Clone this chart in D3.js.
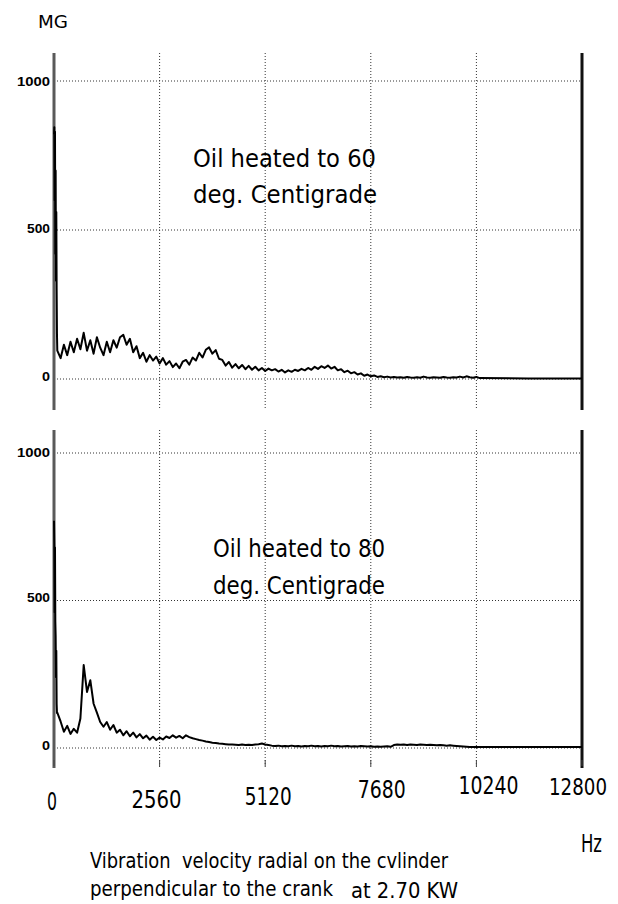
<!DOCTYPE html>
<html><head><meta charset="utf-8">
<script src="https://cdn.jsdelivr.net/npm/d3@7"></script>
<style>body{margin:0;background:#fff}svg{display:block}</style>
</head><body><svg id="c" width="618" height="904"></svg>
<script>
// ---------- DATA ----------
const xTickValues = [0, 2560, 5120, 7680, 10240, 12800];
const xTickLabels = ["0", "2560", "5120", "7680", "10240", "12800"];
const yTickValues = [0, 500, 1000];
const yTickLabels = ["0", "500", "1000"];
const lowStepHz = 8;    // spacing of the low-frequency spike samples
const mainStepHz = 80;  // spacing of the spectrum samples (starting at 80 Hz)

// Oil at 60 °C
const topLow = [820, 845, 600, 830, 420, 700, 330, 560, 300, 150];
const topMain = [95,70,115,80,125,90,135,100,155,95,130,85,140,105,80,125,90,130,105,140,148,115,135,90,110,70,88,58,80,62,75,52,70,48,60,40,52,36,58,64,48,72,62,88,72,98,106,85,97,68,64,45,57,38,50,36,47,33,44,31,41,29,37,27,35,29,33,25,31,22,29,24,31,27,34,29,37,31,41,34,43,37,45,35,41,29,33,23,28,19,23,15,19,11,15,9,12,7,9,6,8,5,7,5,6,4,7,5,4,6,4,8,5,4,6,5,4,7,5,4,6,5,8,5,9,6,4,7];
const topTail = [[10320, 3], [11500, 2], [12800, 2]];

// Oil at 80 °C
const botLow = [770, 690, 460, 680, 430, 380, 240, 330, 150, 119];
const botMain = [120,90,55,75,48,65,52,100,281,190,230,150,120,88,72,88,62,78,52,62,43,57,40,52,36,47,33,42,28,38,27,35,29,39,34,43,35,41,33,43,37,33,30,27,25,22,20,18,17,15,14,13,12,12,11,10,12,10,11,10,12,13,15,12,10,8,7,8,6,7,6,8,6,7,5,7,6,8,6,7,5,7,6,8,6,7,5,6,7,5,6,5,7,6,5,6,4,5,4,5,6,4,10,12,11,12,10,12,11,10,12,11,10,11,10,9,10,9,8,9,8,7,6,5,4,3,3,3];
const botTail = [[10320, 3], [11500, 3], [12800, 3]];

// ---------- LAYOUT ----------
const svg = d3.select("#c");
const narrow = "'Liberation Sans Narrow','DejaVu Sans Condensed','Arial Narrow',sans-serif";
const x = d3.scaleLinear().domain([0, 12800]).range([54, 582]);

const panels = [
  {low: topLow, main: topMain, tail: topTail, y: d3.scaleLinear().domain([0, 1000]).range([379, 81]),
   top: 53, bottom: 410, labelY: [381, 233, 86],
   note: [{t: "Oil heated to 60", x: 193, y: 167, w: 183}, {t: "deg. Centigrade", x: 193, y: 203, w: 184}]},
  {low: botLow, main: botMain, tail: botTail, y: d3.scaleLinear().domain([0, 1000]).range([748, 453]),
   top: 430, bottom: 768, labelY: [750, 602, 457],
   note: [{t: "Oil heated to 80", x: 213, y: 557, w: 172}, {t: "deg. Centigrade", x: 213, y: 594, w: 172}]}
];
const yLabelWidth = [8, 23, 33];

panels.forEach(p => {
  const g = svg.append("g");
  g.selectAll("line.h").data(yTickValues).join("line")
    .attr("x1", x(0)).attr("x2", x(12800))
    .attr("y1", d => p.y(d)).attr("y2", d => p.y(d))
    .attr("stroke", "#333").attr("stroke-width", 1).attr("stroke-dasharray", "1,2");
  g.selectAll("line.v").data(xTickValues.slice(1, -1)).join("line")
    .attr("x1", d => x(d)).attr("x2", d => x(d))
    .attr("y1", p.top).attr("y2", p.bottom)
    .attr("stroke", "#333").attr("stroke-width", 1).attr("stroke-dasharray", "1,2");
  g.selectAll("text.yl").data(yTickValues).join("text")
    .attr("x", 50).attr("y", (d, i) => p.labelY[i])
    .attr("text-anchor", "end")
    .attr("font-family", "'Liberation Sans','DejaVu Sans',sans-serif")
    .attr("font-weight", "bold").attr("font-size", 13)
    .attr("textLength", (d, i) => yLabelWidth[i]).attr("lengthAdjust", "spacingAndGlyphs")
    .text((d, i) => yTickLabels[i]);
  g.append("line").attr("x1", x(0)).attr("x2", x(0)).attr("y1", p.top).attr("y2", p.bottom)
    .attr("stroke", "#5a5a5a").attr("stroke-width", 3);
  g.append("line").attr("x1", x(12800)).attr("x2", x(12800)).attr("y1", p.top).attr("y2", p.bottom)
    .attr("stroke", "#111").attr("stroke-width", 3);
  const pts = p.low.map((v, i) => [i * lowStepHz, v])
    .concat(p.main.map((v, i) => [(i + 1) * mainStepHz, v]))
    .concat(p.tail);
  g.append("path").datum(pts)
    .attr("fill", "none").attr("stroke", "#000").attr("stroke-width", 2)
    .attr("stroke-linejoin", "round")
    .attr("d", d3.line().x(d => x(d[0])).y(d => p.y(d[1])));
  g.selectAll("text.note").data(p.note).join("text")
    .attr("x", d => d.x).attr("y", d => d.y)
    .attr("font-family", narrow).attr("font-size", 25)
    .attr("textLength", d => d.w).attr("lengthAdjust", "spacingAndGlyphs")
    .text(d => d.t);
});

svg.selectAll("line.stub").data(xTickValues).join("line")
  .attr("x1", d => x(d)).attr("x2", d => x(d)).attr("y1", 760).attr("y2", 766)
  .attr("stroke", "#444").attr("stroke-width", 1);

// x tick labels (staggered as in the original)
const xLabelBaseline = [810, 808, 805, 798, 794, 795];
const xLabelShift = [-2, -3, 3, 11, 12, -4];
const xLabelWidth = [10, 50, 47, 48, 60, 58];
const xLabelSize = [25, 25, 25, 25, 25, 23];
svg.selectAll("text.xl").data(xTickValues).join("text")
  .attr("x", (d, i) => x(d) + xLabelShift[i])
  .attr("y", (d, i) => xLabelBaseline[i])
  .attr("text-anchor", "middle")
  .attr("font-family", narrow).attr("font-size", (d, i) => xLabelSize[i])
  .attr("textLength", (d, i) => xLabelWidth[i]).attr("lengthAdjust", "spacingAndGlyphs")
  .text((d, i) => xTickLabels[i]);

svg.append("text").attr("x", 38).attr("y", 28).attr("font-family", narrow)
  .attr("font-size", 18).attr("textLength", 30).attr("lengthAdjust", "spacingAndGlyphs").text("MG");
svg.append("text").attr("x", 581).attr("y", 852).attr("font-family", narrow)
  .attr("font-size", 25).attr("textLength", 21).attr("lengthAdjust", "spacingAndGlyphs").text("Hz");
const caption = [
  {t: "Vibration  velocity radial on the cvlinder", x: 90, y: 868, w: 358},
  {t: "perpendicular to the crank", x: 90, y: 896, w: 243},
  {t: "at 2.70 KW", x: 351, y: 898, w: 107}
];
svg.selectAll("text.cap").data(caption).join("text")
  .attr("x", d => d.x).attr("y", d => d.y)
  .attr("font-family", narrow).attr("font-size", 22)
  .attr("textLength", d => d.w).attr("lengthAdjust", "spacingAndGlyphs")
  .style("white-space", "pre")
  .text(d => d.t);
</script></body></html>
